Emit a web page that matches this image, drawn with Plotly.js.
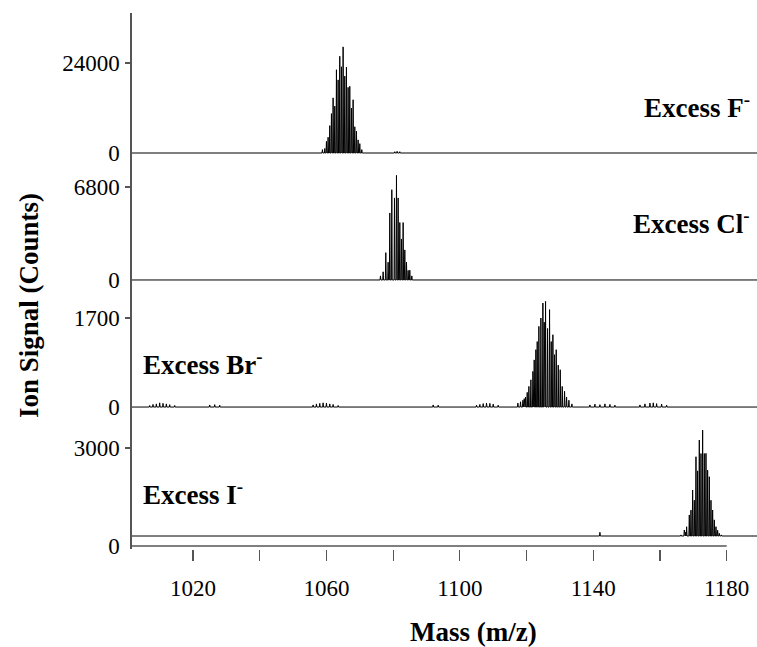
<!DOCTYPE html>
<html>
<head>
<meta charset="utf-8">
<script src="https://cdn.plot.ly/plotly-3.0.1.min.js"></script>
<style>html,body{margin:0;padding:0;background:#fff;}#chart{width:757px;height:647px;}</style>
</head>
<body>
<div id="chart"></div>
<script>
// ---------- data ----------
const xRange = [1001.7, 1189.1];
const xTickVals = [1020, 1060, 1100, 1140, 1180];
const xTickText = ['1020', '1060', '1100', '1140', '1180'];
const xMinorTicks = [1040, 1080, 1120, 1160];

// Excess F-  (counts)
const fMass   = [1058.8, 1059.5, 1060.0, 1060.5, 1061.0, 1061.5, 1062.0, 1062.5, 1063.0, 1063.5, 1064.0, 1064.5, 1065.0, 1065.5, 1066.0, 1066.5, 1067.0, 1067.5, 1068.0, 1068.5, 1069.0, 1069.5, 1070.0, 1070.6, 1080.5, 1081.2, 1082.0];
const fSignal = [900, 1200, 3100, 4200, 7300, 10500, 14700, 12500, 22200, 19500, 25800, 23000, 28300, 20500, 22900, 17500, 17800, 12000, 14200, 7000, 5800, 3500, 2500, 900, 350, 450, 350];
const fBase = 0;

// Excess Cl-
const clMass   = [1076.2, 1077.0, 1077.8, 1078.5, 1079.0, 1079.6, 1080.4, 1081.0, 1081.5, 1082.0, 1082.5, 1083.0, 1083.5, 1084.0, 1084.5, 1085.0, 1085.6];
const clSignal = [300, 600, 2000, 1300, 4900, 6600, 6000, 7650, 6000, 4200, 3000, 4200, 2200, 1300, 700, 720, 300];
const clBase = 0;

// Excess Br-
const brMass   = [1007.0, 1008.0, 1009.0, 1010.0, 1011.0, 1012.0, 1013.0, 1014.5, 1025.0, 1026.5, 1028.0, 1056.0, 1057.0, 1058.0, 1059.0, 1060.0, 1061.0, 1062.0, 1063.5, 1092.0, 1093.5, 1105.0, 1106.0, 1107.0, 1108.0, 1109.0, 1110.0, 1111.5, 1117.4, 1118.2, 1118.9, 1119.3, 1119.7, 1120.2, 1120.7, 1121.3, 1121.9, 1122.3, 1122.8, 1123.2, 1123.7, 1124.3, 1124.9, 1125.3, 1125.7, 1126.3, 1126.9, 1127.4, 1127.9, 1128.4, 1128.9, 1129.5, 1130.1, 1130.7, 1131.4, 1132.0, 1132.7, 1133.6, 1139.0, 1140.5, 1142.0, 1143.5, 1145.0, 1146.5, 1154.0, 1155.5, 1157.0, 1158.0, 1159.0, 1160.5, 1162.0];
const brSignal = [30, 50, 60, 80, 70, 60, 45, 30, 40, 45, 35, 40, 60, 70, 80, 75, 60, 50, 30, 40, 35, 35, 50, 65, 75, 70, 55, 35, 76, 100, 130, 160, 190, 280, 394, 520, 680, 900, 1095, 1250, 1540, 1700, 1986, 1620, 2017, 1500, 1860, 1250, 1380, 1000, 1095, 800, 712, 394, 300, 191, 130, 60, 40, 55, 45, 60, 50, 35, 40, 60, 75, 80, 65, 55, 35];
const brBase = 0;

// Excess I-
const iMass   = [1142.0, 1166.3, 1167.3, 1167.7, 1168.0, 1168.8, 1169.3, 1169.8, 1170.3, 1170.8, 1171.3, 1171.8, 1172.3, 1172.8, 1173.3, 1173.8, 1174.3, 1174.8, 1175.3, 1175.8, 1176.3, 1176.8, 1177.3, 1177.8, 1178.4];
const iSignal = [420, 340, 490, 420, 590, 950, 1100, 1714, 1400, 2733, 2300, 3244, 2830, 3550, 2830, 2836, 2320, 2121, 1400, 1102, 800, 591, 480, 389, 340];
const iBase = 306;

// panel tick values
const fTicks  = [0, 24000];
const clTicks = [0, 6800];
const brTicks = [0, 1700];
const iTicks  = [0, 3000];

// ---------- build stick traces from the data ----------
function sticks(mass, signal, base) {
  const w = 0.13;
  const pts = mass.map((m, i) => [m, signal[i]]).sort((a, b) => a[0] - b[0]);
  const x = [xRange[0]], y = [base];
  pts.forEach(([m, h]) => {
    x.push(m - w, m, m + w);
    y.push(base, h, base);
  });
  x.push(xRange[1]); y.push(base);
  return {x, y};
}

const lineStyle = {color: '#000', width: 1};
const F = sticks(fMass, fSignal, fBase);
const C = sticks(clMass, clSignal, clBase);
const B = sticks(brMass, brSignal, brBase);
const I = sticks(iMass, iSignal, iBase);

const traces = [
  {x: F.x, y: F.y, xaxis: 'x', yaxis: 'y',  type: 'scatter', mode: 'lines', line: lineStyle, hoverinfo: 'skip'},
  {x: C.x, y: C.y, xaxis: 'x', yaxis: 'y2', type: 'scatter', mode: 'lines', line: lineStyle, hoverinfo: 'skip'},
  {x: B.x, y: B.y, xaxis: 'x', yaxis: 'y3', type: 'scatter', mode: 'lines', line: lineStyle, hoverinfo: 'skip'},
  {x: I.x, y: I.y, xaxis: 'x', yaxis: 'y4', type: 'scatter', mode: 'lines', line: lineStyle, hoverinfo: 'skip'}
];

const serif = "Liberation Serif";
const tickFont = {family: serif, size: 23, color: '#000'};
const axisGrey = '#555';

function yAxis(domain, range, ticks) {
  return {
    domain: domain, range: range, anchor: 'x',
    tickmode: 'array', tickvals: ticks, ticktext: ticks.map(String),
    ticks: '', showgrid: false, zeroline: false,
    showline: true, linecolor: axisGrey, linewidth: 1.6,
    tickfont: tickFont, ticklabelstandoff: 6,
    minor: {tickmode: 'array', tickvals: [ticks[1]], ticks: 'outside', ticklen: 5, tickcolor: axisGrey, tickwidth: 1.2, showgrid: false},
    fixedrange: true
  };
}

const boldFont = {family: serif, size: 27, color: '#000', weight: 'bold'};

const layout = {
  width: 757, height: 647,
  margin: {l: 132, r: 0, t: 13, b: 98},
  paper_bgcolor: '#fff', plot_bgcolor: 'rgba(0,0,0,0)',
  showlegend: false,
  font: {family: serif},
  xaxis: {
    domain: [0, 1], range: xRange, anchor: 'y4',
    tickmode: 'array', tickvals: xTickVals, ticktext: xTickText,
    ticks: 'outside', ticklen: 11, tickcolor: axisGrey, tickwidth: 1.2,
    minor: {tickmode: 'array', tickvals: xMinorTicks, ticks: 'outside', ticklen: 11, tickcolor: axisGrey, tickwidth: 1.2, showgrid: false},
    showgrid: false, zeroline: false, showline: false,
    tickfont: tickFont, ticklabelstandoff: 7, fixedrange: true
  },
  yaxis:  yAxis([0.7332, 1.0],    [-800, 37333], fTicks),
  yaxis2: yAxis([0.4963, 0.7388], [-219, 9284],  clTicks),
  yaxis3: yAxis([0.2593, 0.5019], [-57, 2426],   brTicks),
  yaxis4: yAxis([0.0, 0.2649],    [-92, 4255],   iTicks),
  shapes: [
    {type: 'line', xref: 'x', yref: 'y4', x0: xRange[0], x1: xTickVals[xTickVals.length - 1], y0: 0, y1: 0,
     line: {color: axisGrey, width: 1.4}}
  ],
  annotations: [
    {text: 'Excess F<sup>-</sup>', xref: 'paper', yref: 'paper', x: 0.992, y: 0.8265, xanchor: 'right', yanchor: 'middle', showarrow: false, font: boldFont},
    {text: 'Excess Cl<sup>-</sup>', xref: 'paper', yref: 'paper', x: 0.992, y: 0.610, xanchor: 'right', yanchor: 'middle', showarrow: false, font: boldFont},
    {text: 'Excess Br<sup>-</sup>', xref: 'paper', yref: 'paper', x: 0.0144, y: 0.347, xanchor: 'left', yanchor: 'middle', showarrow: false, font: boldFont},
    {text: 'Excess I<sup>-</sup>', xref: 'paper', yref: 'paper', x: 0.0144, y: 0.1045, xanchor: 'left', yanchor: 'middle', showarrow: false, font: boldFont},
    {text: 'Mass (m/z)', xref: 'paper', yref: 'paper', x: 0.547, y: -0.155, xanchor: 'center', yanchor: 'middle', showarrow: false, font: boldFont},
    {text: 'Ion Signal (Counts)', xref: 'paper', yref: 'paper', x: -0.165, y: 0.455, xanchor: 'center', yanchor: 'middle', textangle: -90, showarrow: false, font: boldFont}
  ]
};

Plotly.newPlot('chart', traces, layout, {staticPlot: true, displayModeBar: false});
</script>
</body>
</html>
